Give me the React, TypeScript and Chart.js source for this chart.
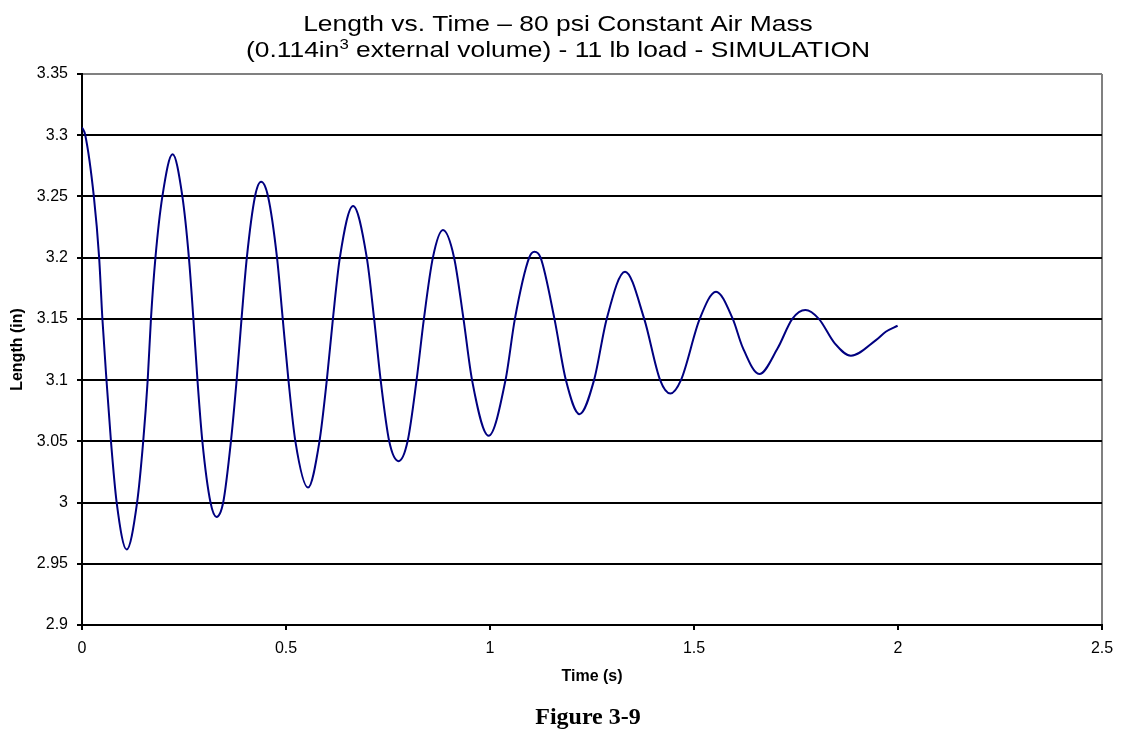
import React, { useEffect, useRef } from 'react';
import { Chart, registerables } from 'chart.js';

Chart.register(...registerables);

// ---- data ----
const TIME_S = [
  0, 0.008, 0.029, 0.042, 0.05, 0.06, 0.071, 0.085, 0.1094,
  0.135, 0.15, 0.161, 0.169, 0.18, 0.197, 0.222,
  0.246, 0.262, 0.273, 0.283, 0.295, 0.315, 0.3298,
  0.346, 0.365, 0.379, 0.391, 0.404, 0.424, 0.439,
  0.456, 0.478, 0.492, 0.506, 0.523, 0.554,
  0.582, 0.6, 0.615, 0.632, 0.6644,
  0.698, 0.716, 0.732, 0.753, 0.776,
  0.798, 0.82, 0.838, 0.86, 0.8847,
  0.912, 0.935, 0.956, 0.9966,
  1.038, 1.061, 1.096, 1.109,
  1.124, 1.158, 1.186, 1.2194,
  1.255, 1.286, 1.331,
  1.378, 1.417, 1.442,
  1.468, 1.514, 1.554,
  1.595, 1.619, 1.66,
  1.705, 1.741, 1.773,
  1.806, 1.845, 1.8846,
  1.946, 1.97, 1.999,
];
const LENGTH_IN = [
  3.3065, 3.3, 3.25, 3.2, 3.15, 3.1, 3.05, 3.0, 2.9617,
  3.0, 3.05, 3.1, 3.15, 3.2, 3.25, 3.2844,
  3.25, 3.2, 3.15, 3.1, 3.05, 3.0, 2.9883,
  3.0, 3.05, 3.1, 3.15, 3.2, 3.25, 3.262,
  3.25, 3.2, 3.15, 3.1, 3.05, 3.0123,
  3.05, 3.1, 3.15, 3.2, 3.2422,
  3.2, 3.15, 3.1, 3.05, 3.0338,
  3.05, 3.1, 3.15, 3.2, 3.2225,
  3.2, 3.15, 3.1, 3.0545,
  3.1, 3.15, 3.2, 3.2048,
  3.2, 3.15, 3.1, 3.0722,
  3.1, 3.15, 3.1885,
  3.15, 3.1, 3.0891,
  3.1, 3.15, 3.1722,
  3.15, 3.127, 3.1049,
  3.126, 3.15, 3.1572,
  3.15, 3.13, 3.1199,
  3.1327, 3.1395, 3.1444,
];
const Y_TICKS = [2.9, 2.95, 3, 3.05, 3.1, 3.15, 3.2, 3.25, 3.3, 3.35];
const X_TICKS = [0, 0.5, 1, 1.5, 2, 2.5];

const TITLE_LINE_1 = 'Length vs. Time \u2013 80 psi Constant Air Mass';
const TITLE_LINE_2_PRE = '(0.114in';
const TITLE_LINE_2_SUP = '3';
const TITLE_LINE_2_POST = ' external volume) - 11 lb load - SIMULATION';
const X_TITLE = 'Time (s)';
const Y_TITLE = 'Length (in)';
const CAPTION = 'Figure 3-9';

const SANS = 'Arial, "Liberation Sans", Helvetica, sans-serif';
const SERIF = '"Times New Roman", "Liberation Serif", Times, serif';

const W = 1126;
const H = 734;

const titlePlugin = {
  id: 'stretchedTitle',
  afterDraw(chart: any) {
    const ctx = chart.ctx as CanvasRenderingContext2D;
    const sx = 1.2;
    const cx = 558;
    ctx.save();
    ctx.fillStyle = '#000';
    ctx.textBaseline = 'alphabetic';
    ctx.textAlign = 'left';
    ctx.font = `22px ${SANS}`;
    const w1 = ctx.measureText(TITLE_LINE_1).width;
    ctx.save();
    ctx.translate(cx - (w1 * sx) / 2, 31);
    ctx.scale(sx, 1);
    ctx.fillText(TITLE_LINE_1, 0, 0);
    ctx.restore();

    const wa = ctx.measureText(TITLE_LINE_2_PRE).width;
    const wc = ctx.measureText(TITLE_LINE_2_POST).width;
    ctx.font = `14px ${SANS}`;
    const wb = ctx.measureText(TITLE_LINE_2_SUP).width;
    const total = (wa + wb + wc) * sx;
    ctx.save();
    ctx.translate(cx - total / 2, 57);
    ctx.scale(sx, 1);
    ctx.font = `22px ${SANS}`;
    ctx.fillText(TITLE_LINE_2_PRE, 0, 0);
    ctx.font = `14px ${SANS}`;
    ctx.fillText(TITLE_LINE_2_SUP, wa, -8);
    ctx.font = `22px ${SANS}`;
    ctx.fillText(TITLE_LINE_2_POST, wa + wb, 0);
    ctx.restore();
    ctx.restore();
  },
};

export default function App() {
  const canvasRef = useRef<HTMLCanvasElement | null>(null);

  useEffect(() => {
    const canvas = canvasRef.current;
    if (!canvas) return;
    Chart.defaults.font.family = SANS;
    const points = TIME_S.map((t, i) => ({ x: t, y: LENGTH_IN[i] }));
    const chart = new Chart(canvas, {
      type: 'line',
      data: {
        datasets: [
          {
            data: points,
            borderColor: '#000080',
            borderWidth: 2,
            pointRadius: 0,
            fill: false,
            cubicInterpolationMode: 'monotone',
          },
        ],
      },
      options: {
        responsive: false,
        animation: false,
        devicePixelRatio: 1,
        layout: { padding: { top: 74, right: 24, left: 0, bottom: 0 } },
        plugins: {
          legend: { display: false },
          tooltip: { enabled: false },
          title: { display: false },
        },
        scales: {
          x: {
            type: 'linear',
            min: 0,
            max: 2.5,
            afterBuildTicks: (s: any) => {
              s.ticks = X_TICKS.map((v) => ({ value: v }));
            },
            afterFit: (s: any) => {
              s.height = H - 625;
            },
            ticks: {
              color: '#000',
              font: { size: 16, family: SANS },
              padding: 9,
              maxRotation: 0,
              autoSkip: false,
              callback: (v: any) => String(Number(v)),
            },
            grid: {
              drawOnChartArea: true,
              color: (c: any) => (c.tick && c.tick.value === 2.5 ? '#808080' : 'rgba(0,0,0,0)'),
              tickColor: '#000',
              tickLength: 5,
              lineWidth: 2,
            },
            border: { display: true, color: '#000', width: 2 },
            title: {
              display: true,
              text: X_TITLE,
              color: '#000',
              font: { size: 16, weight: 'bold', family: SANS },
              padding: { top: 0, bottom: 48 },
            },
          },
          y: {
            type: 'linear',
            min: 2.9,
            max: 3.35,
            afterBuildTicks: (s: any) => {
              s.ticks = Y_TICKS.map((v) => ({ value: v }));
            },
            afterFit: (s: any) => {
              s.width = 82;
            },
            ticks: {
              color: '#000',
              font: { size: 16, family: SANS },
              padding: 9,
              autoSkip: false,
              callback: (v: any) => String(Number(v)),
            },
            grid: {
              color: (c: any) => (c.tick && c.tick.value === 3.35 ? '#808080' : '#000'),
              tickColor: '#000',
              tickLength: 5,
              lineWidth: 2,
            },
            border: { display: true, color: '#000', width: 2 },
            title: {
              display: true,
              text: Y_TITLE,
              color: '#000',
              font: { size: 16, weight: 'bold', family: SANS },
              padding: { top: 8, bottom: 0 },
            },
          },
        },
      },
      plugins: [titlePlugin],
    } as any);
    return () => chart.destroy();
  }, []);

  return (
    <div style={{ position: 'fixed', left: 0, top: 0, width: W, height: H, background: '#fff' }}>
      <canvas
        ref={canvasRef}
        width={W}
        height={H}
        style={{ display: 'block', width: W, height: H, position: 'absolute', left: 0, top: 0 }}
      />
      <div
        style={{
          position: 'absolute',
          left: 50,
          width: 1076,
          top: 704,
          textAlign: 'center',
          fontFamily: SERIF,
          fontWeight: 'bold',
          fontSize: 24,
          lineHeight: '24px',
          color: '#000',
        }}
      >
        {CAPTION}
      </div>
    </div>
  );
}
